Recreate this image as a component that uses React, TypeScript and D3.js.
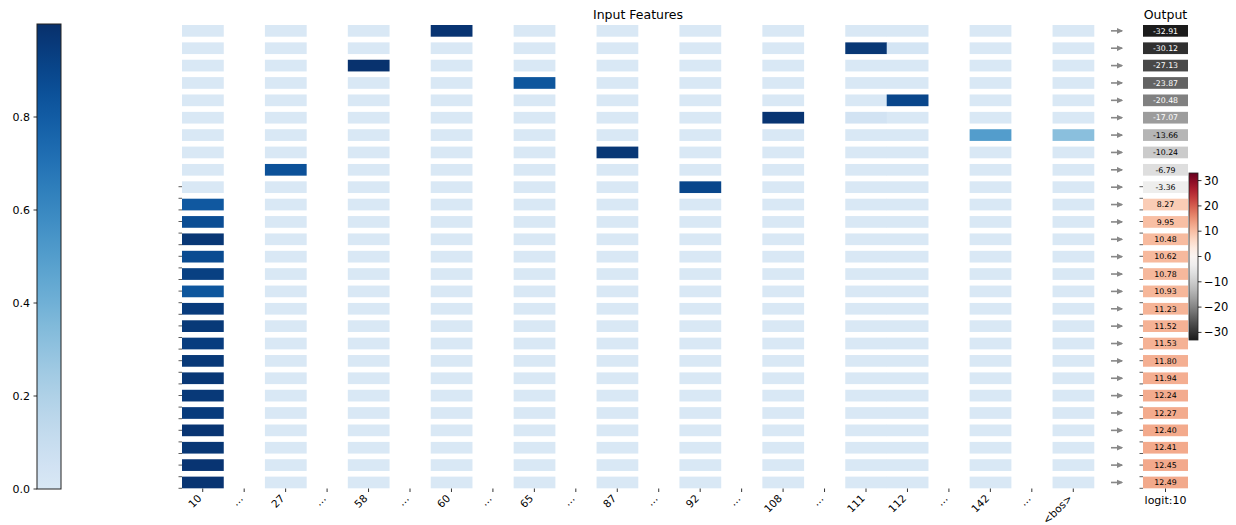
import React from "react";
import * as d3 from "d3";

// x axis: real features with "…" gaps between them
const featureLabels = ["10", "…", "27", "…", "58", "…", "60", "…", "65", "…", "87", "…", "92", "…", "108", "…", "111", "112", "…", "142", "…", "<bos>"];

// output logit per row (sorted)
const outputLogits = [-32.91, -30.12, -27.13, -23.87, -20.48, -17.07, -13.66, -10.24, -6.79, -3.36, 8.27, 9.95, 10.48, 10.62, 10.78, 10.93, 11.23, 11.52, 11.53, 11.8, 11.94, 12.24, 12.27, 12.4, 12.41, 12.45, 12.49];

// activations of feature "10" for rows 10..26
const feature10Acts = [0.82, 0.87, 0.97, 0.88, 0.93, 0.83, 0.95, 0.96, 0.94, 0.96, 0.97, 0.96, 0.95, 0.98, 0.97, 0.98, 0.98];

// other non-zero cells: [row, column, activation]
const hotCells: [number, number, number][] = [
  [0, 6, 0.98],
  [1, 16, 0.97],
  [1, 17, 0.03],
  [2, 4, 0.99],
  [3, 8, 0.83],
  [4, 17, 0.9],
  [5, 14, 0.98],
  [5, 16, 0.04],
  [6, 19, 0.5],
  [6, 21, 0.32],
  [7, 10, 0.97],
  [8, 2, 0.85],
  [9, 12, 0.9],
];

const leftTicks = [0.0, 0.2, 0.4, 0.6, 0.8];
const rightTicks = [30, 20, 10, 0, -10, -20, -30];

const W = 1236;
const H = 525;
const font = "DejaVu Sans, sans-serif";

const blues = (v: number) => d3.interpolateBlues(0.15 + 0.85 * v);
const rdgy = (v: number) => d3.interpolateRdGy(1 - (v + 33) / 66);

export default function App() {
  const nRows = outputLogits.length;
  const x = d3.scaleBand<number>().domain(d3.range(featureLabels.length)).range([182, 1094]);
  const y = d3.scaleBand<number>().domain(d3.range(nRows)).range([25, 25 + nRows * 17.37]);
  const cellH = 11.7;

  // build value matrix
  const values: number[][] = d3.range(nRows).map(() => featureLabels.map(() => 0));
  feature10Acts.forEach((v, i) => (values[10 + i][0] = v));
  hotCells.forEach(([r, c, v]) => (values[r][c] = v));

  const cbY = d3.scaleLinear().domain([0, 1]).range([489, 24]);
  const rbY = d3.scaleLinear().domain([-33, 33]).range([340, 173]);
  const tickY = d3.range(27).map((i) => 186.7 + i * 11.6);

  const stops = d3.range(0, 1.001, 0.05);

  const outX = 1143;
  const outW = 45;

  return (
    <svg width={W} height={H} style={{ position: "absolute", left: 0, top: 0 }} fontFamily={font}>
      <defs>
        <linearGradient id="bluesGrad" x1="0" y1="1" x2="0" y2="0">
          {stops.map((t) => (
            <stop key={t} offset={t} stopColor={blues(t)} />
          ))}
        </linearGradient>
        <linearGradient id="rdgyGrad" x1="0" y1="1" x2="0" y2="0">
          {stops.map((t) => (
            <stop key={t} offset={t} stopColor={rdgy(-33 + 66 * t)} />
          ))}
        </linearGradient>
        <marker id="arrow" viewBox="0 0 10 10" refX="8" refY="5" markerWidth="4" markerHeight="4" orient="auto">
          <path d="M0,0.5 L10,5 L0,9.5 z" fill="#888" />
        </marker>
      </defs>
      <rect width={W} height={H} fill="white" />

      {/* left colorbar */}
      <rect x={37} y={cbY(1)} width={24} height={cbY(0) - cbY(1)} fill="url(#bluesGrad)" stroke="#222" strokeWidth={1} />
      {leftTicks.map((t) => (
        <g key={t}>
          <line x1={33.5} x2={37} y1={cbY(t)} y2={cbY(t)} stroke="#000" strokeWidth={0.8} />
          <text x={30} y={cbY(t)} dy="0.35em" textAnchor="end" fontSize={11}>
            {t.toFixed(1)}
          </text>
        </g>
      ))}

      {/* heatmap */}
      {values.map((row, r) =>
        row.map((v, c) =>
          featureLabels[c] === "…" ? null : (
            <rect key={`${r}-${c}`} x={x(c)} y={y(r)} width={x.bandwidth() + 0.3} height={cellH} fill={blues(v)} />
          )
        )
      )}

      {/* odd y ticks left of heatmap and output */}
      {tickY.map((ty, i) => (
        <g key={i}>
          <line x1={178.5} x2={182} y1={ty} y2={ty} stroke="#333" strokeWidth={0.8} />
          <line x1={1139.5} x2={1143} y1={ty} y2={ty} stroke="#333" strokeWidth={0.8} />
        </g>
      ))}

      {/* x axis */}
      {featureLabels.map((lab, i) => {
        const cx = (x(i) as number) + x.bandwidth() / 2;
        const ax = cx - 3;
        const ay = 496.5;
        return (
          <g key={i}>
            <line x1={cx} x2={cx} y1={488.5} y2={492} stroke="#000" strokeWidth={0.8} />
            <text x={ax} y={ay} textAnchor="end" fontSize={10.5} dy="0.35em" transform={`rotate(-45 ${ax} ${ay})`}>
              {lab}
            </text>
          </g>
        );
      })}
      <text x={638} y={19} textAnchor="middle" fontSize={12.5}>
        Input Features
      </text>

      {/* arrows + outputs */}
      {outputLogits.map((v, r) => {
        const yy = (y(r) as number) + cellH / 2;
        return (
          <g key={r}>
            <line x1={1111} x2={1122} y1={yy} y2={yy} stroke="#888" strokeWidth={1.6} markerEnd="url(#arrow)" />
            <rect x={outX} y={y(r)} width={outW} height={cellH} fill={rdgy(v)} />
            <text
              x={outX + outW / 2}
              y={yy}
              dy="0.35em"
              textAnchor="middle"
              fontSize={7.8}
              fill={v < -15 ? "white" : "black"}
            >
              {v.toFixed(2)}
            </text>
          </g>
        );
      })}
      <text x={outX + outW / 2} y={19} textAnchor="middle" fontSize={12.5}>
        Output
      </text>
      <line x1={outX + outW / 2} x2={outX + outW / 2} y1={488.5} y2={492} stroke="#000" strokeWidth={0.8} />
      <text x={outX + outW / 2} y={504} textAnchor="middle" fontSize={11}>
        logit:10
      </text>

      {/* right colorbar */}
      <rect x={1189} y={rbY(33)} width={9} height={rbY(-33) - rbY(33)} fill="url(#rdgyGrad)" stroke="#222" strokeWidth={0.8} />
      {rightTicks.map((t) => (
        <g key={t}>
          <line x1={1198} x2={1201.5} y1={rbY(t)} y2={rbY(t)} stroke="#000" strokeWidth={0.8} />
          <text x={1204} y={rbY(t)} dy="0.35em" fontSize={11.5}>
            {t < 0 ? `\u2212${Math.abs(t)}` : t}
          </text>
        </g>
      ))}
    </svg>
  );
}
